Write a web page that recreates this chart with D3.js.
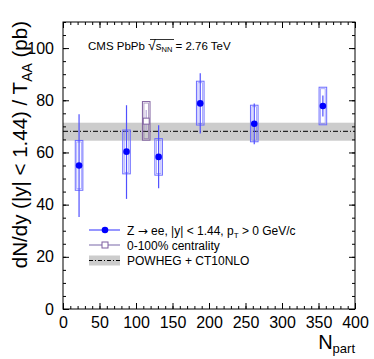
<!DOCTYPE html>
<html><head><meta charset="utf-8">
<script src="https://cdn.jsdelivr.net/npm/d3@7"></script>
<style>body{margin:0;background:#fff}svg{display:block;font-family:"Liberation Sans",Arial,Helvetica,sans-serif}</style>
</head><body><svg id="c" width="374" height="359"></svg>
<script>
// data
const npart = [22, 87, 131, 188, 262, 356];
const yieldVal = [55.0, 60.3, 58.3, 78.8, 71.0, 77.8];
const statLo = [35.3, 42.2, 46.3, 67.3, 63.1, 73.8];
const statHi = [74.6, 78.1, 70.4, 90.4, 78.8, 81.8];
const systLo = [45.5, 51.8, 51.3, 70.5, 64.1, 70.6];
const systHi = [64.6, 68.6, 65.3, 87.3, 78.1, 85.0];
const mbNpart = [114];
const mbVal = [72.0];
const mbStatLo = [68.2], mbStatHi = [76.3];
const mbSystLo = [64.7], mbSystHi = [79.5];
const theory = 68.1, theoryLo = 64.5, theoryHi = 71.4;
const xTicks = [0, 50, 100, 150, 200, 250, 300, 350, 400];
const yTicks = [0, 20, 40, 60, 80, 100];

const svg = d3.select("#c");
const L = 63, R = 355, T = 22, B = 309;
const x = d3.scaleLinear().domain([0, 400]).range([L, R]);
const y = d3.scaleLinear().domain([0, 110]).range([B, T]);

// theory band
svg.append("rect").attr("x", L).attr("width", R - L)
  .attr("y", y(theoryHi)).attr("height", y(theoryLo) - y(theoryHi)).attr("fill", "#cccccc");
svg.append("line").attr("x1", L).attr("x2", R).attr("y1", y(theory)).attr("y2", y(theory))
  .attr("stroke", "#000").attr("stroke-width", 1).attr("stroke-dasharray", "5,2,1,2");

const hw = 5.2; // half width in Npart units
function drawPoints(xs, v, sl, sh, yl, yh, col, boxCol, errCol, open) {
  const g = svg.append("g");
  xs.forEach((n, i) => {
    const x0 = x(n - hw), x1 = x(n + hw);
    g.append("rect").attr("x", x0).attr("y", y(yh[i])).attr("width", x1 - x0).attr("height", y(yl[i]) - y(yh[i]))
      .attr("fill", "none").attr("stroke", boxCol).attr("stroke-width", 1);
    g.append("rect").attr("x", x0 + 1.5).attr("y", y(yh[i]) + 1.5).attr("width", x1 - x0 - 3).attr("height", y(yl[i]) - y(yh[i]) - 3)
      .attr("fill", "none").attr("stroke", boxCol).attr("stroke-width", 0.8).attr("stroke-opacity", 0.7);
    g.append("line").attr("x1", x(n)).attr("x2", x(n)).attr("y1", y(sl[i])).attr("y2", y(sh[i]))
      .attr("stroke", errCol).attr("stroke-width", 1.2);
    if (open) {
      g.append("rect").attr("x", x(n) - 3).attr("y", y(v[i]) - 3).attr("width", 6).attr("height", 6)
        .attr("fill", "#fff").attr("stroke", col).attr("stroke-width", 1);
    } else {
      g.append("circle").attr("cx", x(n)).attr("cy", y(v[i])).attr("r", 3.3).attr("fill", col);
    }
  });
}
drawPoints(npart, yieldVal, statLo, statHi, systLo, systHi, "#0000ff", "#6c6cff", "#5050ff", false);
drawPoints(mbNpart, mbVal, mbStatLo, mbStatHi, mbSystLo, mbSystHi, "#7f5f9f", "#7f5f9f", "#b8a8d8", true);

// axes frame
svg.append("rect").attr("x", L).attr("y", T).attr("width", R - L).attr("height", B - T)
  .attr("fill", "none").attr("stroke", "#000").attr("stroke-width", 1);

const axB = d3.axisBottom(x).tickValues(xTicks).tickSize(-6).tickPadding(8).tickFormat(d3.format("d"));
const axBm = d3.axisBottom(x).tickValues(d3.range(0, 401, 10)).tickSize(-3).tickFormat("");
const axT = d3.axisTop(x).tickValues(xTicks).tickSize(-6).tickFormat("");
const axTm = d3.axisTop(x).tickValues(d3.range(0, 401, 10)).tickSize(-3).tickFormat("");
const axL = d3.axisLeft(y).tickValues(yTicks).tickSize(-6).tickPadding(9).tickFormat(d3.format("d"));
const axLm = d3.axisLeft(y).tickValues(d3.range(0, 111, 5)).tickSize(-3).tickFormat("");
const axR = d3.axisRight(y).tickValues(yTicks).tickSize(-6).tickFormat("");
const axRm = d3.axisRight(y).tickValues(d3.range(0, 111, 5)).tickSize(-3).tickFormat("");
function put(ax, tx, ty) {
  const g = svg.append("g").attr("transform", `translate(${tx},${ty})`).call(ax);
  g.select(".domain").remove();
  g.selectAll("line").attr("stroke", "#000").attr("stroke-width", 1);
  g.selectAll("text").attr("font-size", 16).attr("fill", "#000").attr("font-family", "Liberation Sans, Arial, sans-serif");
  return g;
}
put(axBm, 0, B); put(axTm, 0, T); put(axLm, L, 0); put(axRm, R, 0);
const gb = put(axB, 0, B); put(axT, 0, T); const gl = put(axL, L, 0); put(axR, R, 0);
gb.selectAll("text").attr("dy", "0.71em");

// y title
const yt = svg.append("text").attr("transform", `translate(27,${T - 1}) rotate(-90)`)
  .attr("text-anchor", "end").attr("font-size", 20.5).attr("fill", "#000");
yt.append("tspan").text("dN/dy (|y| < 1.44) / T");
yt.append("tspan").attr("font-size", 14).attr("dy", 5).text("AA");
yt.append("tspan").attr("dy", -5).text(" (pb)");

// x title
const xt = svg.append("text").attr("x", R).attr("y", 349).attr("text-anchor", "end").attr("font-size", 20).attr("fill", "#000");
xt.append("tspan").text("N");
xt.append("tspan").attr("font-size", 13).attr("dy", 4).text("part");

// CMS label
const cms = svg.append("text").attr("x", 88).attr("y", 50).attr("font-size", 11.5).attr("fill", "#000");
cms.append("tspan").text("CMS PbPb ");
cms.append("tspan").attr("font-size", 14).text("√");
cms.append("tspan").text("s");
cms.append("tspan").attr("font-size", 7.5).attr("dy", 2).text("NN");
cms.append("tspan").attr("dy", -2).text(" = 2.76 TeV");
svg.append("line").attr("x1", 150).attr("x2", 174).attr("y1", 39.5).attr("y2", 39.5).attr("stroke", "#000").attr("stroke-width", 0.8);

// legend
const lx0 = 89, lx1 = 120, lxm = 105, ltx = 127;
const ly = [230, 245, 260.5];
svg.append("line").attr("x1", lx0).attr("x2", lx1).attr("y1", ly[0]).attr("y2", ly[0]).attr("stroke", "#5050ff").attr("stroke-width", 1.2);
svg.append("circle").attr("cx", lxm).attr("cy", ly[0]).attr("r", 3.3).attr("fill", "#0000ff");
svg.append("line").attr("x1", lx0).attr("x2", lx1).attr("y1", ly[1]).attr("y2", ly[1]).attr("stroke", "#9080b8").attr("stroke-width", 1.2);
svg.append("rect").attr("x", lxm - 3).attr("y", ly[1] - 3).attr("width", 6).attr("height", 6).attr("fill", "#fff").attr("stroke", "#7f5f9f");
svg.append("rect").attr("x", lx0).attr("y", ly[2] - 5).attr("width", lx1 - lx0).attr("height", 10).attr("fill", "#cccccc");
svg.append("line").attr("x1", lx0).attr("x2", lx1).attr("y1", ly[2]).attr("y2", ly[2]).attr("stroke", "#000").attr("stroke-dasharray", "4,2,1,2");

const legTexts = [null, "0-100% centrality", "POWHEG + CT10NLO"];
const t0 = svg.append("text").attr("x", ltx).attr("y", ly[0] + 4.5).attr("font-size", 12).attr("fill", "#000");
t0.append("tspan").text("Z ");
t0.append("tspan").attr("font-family", "DejaVu Sans").attr("font-size", 12).text("→");
t0.append("tspan").text(" ee, |y| < 1.44, p");
t0.append("tspan").attr("font-size", 8).attr("dy", 3).text("T");
t0.append("tspan").attr("dy", -3).text(" > 0 GeV/c");
legTexts.forEach((s, i) => { if (s) svg.append("text").attr("x", ltx).attr("y", ly[i] + 4.5).attr("font-size", 12).attr("fill", "#000").text(s); });
</script></body></html>
